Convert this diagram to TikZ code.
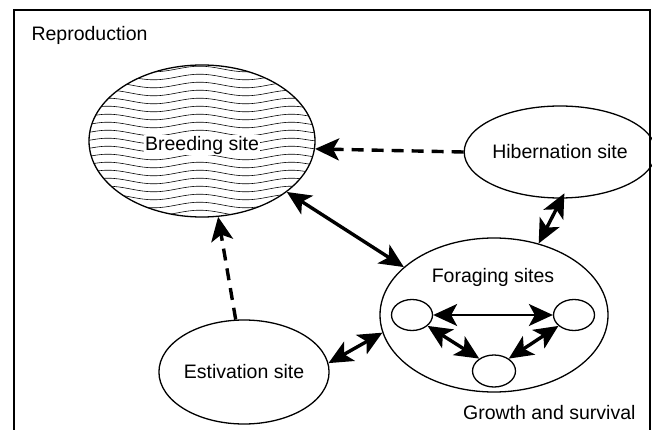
\documentclass[tikz,border=0pt]{standalone}
\usepackage{fontspec}
\setmainfont{Liberation Sans}
\usepackage{tikz}
\usetikzlibrary{shapes.geometric,arrows.meta,decorations.pathmorphing,positioning}

\begin{document}
\begin{tikzpicture}[x=1pt,y=-1pt,font=\fontsize{19.5}{23}\selectfont]
    % `site' is used for the habitat ellipses, `patch' for the small ones.
    % `link' is a two-way movement, `move' a one-way (dashed) one.
    \tikzstyle{site} = [draw,shape=ellipse,line width=1.3pt,inner sep=0pt]
    \tikzstyle{patch} = [draw,shape=ellipse,line width=1.3pt,minimum width=41pt,minimum height=31pt]
    \tikzstyle{link} = [line width=3.4pt,{Stealth[length=24pt,width=22pt,inset=6pt]}-{Stealth[length=24pt,width=22pt,inset=6pt]}]
    \tikzstyle{move} = [line width=3.4pt,dash pattern=on 12pt off 8pt,-{Stealth[length=24pt,width=22pt,inset=6pt]}]
    \tikzstyle{wave} = [line width=0.6pt,decorate,decoration={snake,segment length=92pt,amplitude=2.8pt}]
    %
    \useasboundingbox (0,0) rectangle (652,430);
    \draw[line width=2pt] (14,10) rectangle (650,445);
    %
    % Breeding site with its water hatching.
    \node[site,minimum width=226pt,minimum height=152pt,
      path picture={
        \foreach \i in {-10,...,10}
          \draw[wave] ([xshift=-10pt,yshift=\i*8pt]path picture bounding box.west) -- ++(250,0);
      }] (breed) at (202,141) {};
    \node[fill=white,inner sep=1pt] (breedlabel) at (202,145) {Breeding site};
    %
    \node[site,minimum width=156pt,minimum height=92pt] (hib) at (560,152) {Hibernation site};
    \node[site,minimum width=228pt,minimum height=154pt] (forage) at (494,315) {};
    \node (foragelabel) at (493,277) {Foraging sites};
    \node[site,minimum width=162pt,minimum height=104pt] (estiv) at (244,372) {Estivation site};
    %
    % Patches inside the foraging area.
    \node[patch] (pl) at (412,315) {};
    \node[patch] (pr) at (574,315) {};
    \node[patch,minimum width=43pt,minimum height=32pt] (pb) at (494,371) {};
    %
    \node[anchor=west] (repro) at (28,35) {Reproduction};
    \node[anchor=east] (growth) at (639,413) {Growth and survival};
    %
    % Draw movements.
    \draw[move] (hib.west) -- (breed.-4);
    \draw[move] (estiv.99) -- (breed.-78);
    \draw[link] (breed.-31) -- (forage.152);
    \draw[link,shorten <=-6pt] (hib.272) -- (forage.58);
    \draw[link] (estiv.6) -- (forage.189);
    \draw[link,line width=2pt] (pl.east) -- (pr.west);
    \draw[link] (pl.-35) -- (pb.140);
    \draw[link] (pr.-145) -- (pb.40);
\end{tikzpicture}
\end{document}
